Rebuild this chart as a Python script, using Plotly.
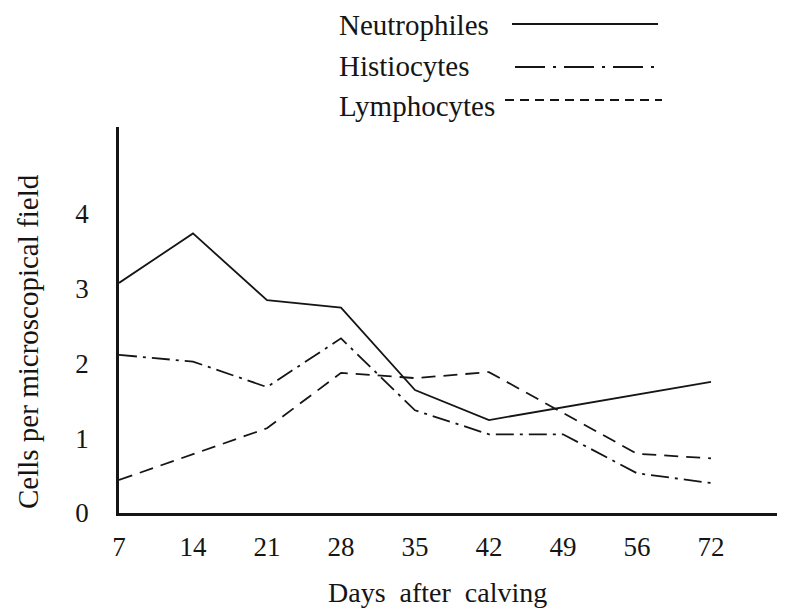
import plotly.graph_objects as go

# ─── Data ───────────────────────────────────────────────────────────────────
DAYS = ["7", "14", "21", "28", "35", "42", "49", "56", "72"]
Y_TICKS = [0, 1, 2, 3, 4]

neutro_days = ["7", "14", "21", "28", "35", "42", "72"]
neutro_vals = [3.07, 3.73, 2.84, 2.74, 1.64, 1.24, 1.75]

histio_days = ["7", "14", "21", "28", "35", "42", "49", "56", "72"]
histio_vals = [2.11, 2.02, 1.68, 2.33, 1.37, 1.05, 1.05, 0.53, 0.40]

lympho_days = ["7", "21", "28", "35", "42", "56", "72"]
lympho_vals = [0.44, 1.13, 1.87, 1.80, 1.88, 0.79, 0.73]

# ─── Page geometry (page pixels; the page body adds an 8px offset) ──────────
OFF = 8
W, H = 785 - OFF, 611 - OFF
AX_X, AX_Y, AX_TOP, AX_RIGHT = 119, 513, 127, 785  # axes in page pixels
L, T = AX_X - OFF, AX_TOP - OFF
R, B = 0, H - (AX_Y - OFF)
PW, PH = W - L - R, H - T - B
INK = "#151515"
FONT = "Liberation Serif, Times New Roman, serif"

SOLID = "solid"
DASHDOT = "18px,6px,3px,6px"
DASH = "14px,8px"


def px(x):
    return (x - AX_X) / PW


def py(y):
    return (AX_Y - y) / PH


fig = go.Figure()

for days, vals, dash, name in [
    (neutro_days, neutro_vals, SOLID, "Neutrophiles"),
    (histio_days, histio_vals, DASHDOT, "Histiocytes"),
    (lympho_days, lympho_vals, DASH, "Lymphocytes"),
]:
    fig.add_trace(go.Scatter(
        x=days, y=vals, mode="lines", name=name,
        line=dict(color=INK, width=1.8, dash=dash),
        showlegend=False,
    ))

# ─── Hand-made legend: label on the left, line sample on the right ──────────
legend_rows = [
    ("Neutrophiles", 25, 24, 512, 658, SOLID),
    ("Histiocytes", 66, 67, 515, 662, "30px,8px,3px,8px"),
    ("Lymphocytes", 106, 100, 505, 662, "9px,6px"),
]
shapes = []
annotations = []
for label, ty, ly, x0, x1, dash in legend_rows:
    annotations.append(dict(
        text=label, xref="paper", yref="paper", x=px(337), y=py(ty),
        xanchor="left", yanchor="middle", showarrow=False,
        font=dict(family=FONT, size=29, color=INK),
    ))
    shapes.append(dict(
        type="line", xref="paper", yref="paper",
        x0=px(x0), x1=px(x1), y0=py(ly), y1=py(ly),
        line=dict(color=INK, width=1.8, dash=dash),
    ))

# axis titles
annotations.append(dict(
    text="Cells per microscopical field", xref="paper", yref="paper",
    x=px(28), y=py(342), textangle=-90, showarrow=False,
    xanchor="center", yanchor="middle",
    font=dict(family=FONT, size=29, color=INK),
))
annotations.append(dict(
    text="Days\u00a0\u00a0after\u00a0\u00a0calving", xref="paper", yref="paper",
    x=px(437), y=py(592), showarrow=False,
    xanchor="center", yanchor="middle",
    font=dict(family=FONT, size=28, color=INK),
))

fig.update_layout(
    width=W, height=H,
    margin=dict(l=L, r=R, t=T, b=B, pad=0),
    paper_bgcolor="white", plot_bgcolor="white",
    font=dict(family=FONT, size=26, color=INK),
    shapes=shapes, annotations=annotations,
    xaxis=dict(
        type="category", categoryorder="array", categoryarray=DAYS,
        range=[0, 9], showgrid=False, zeroline=False,
        showline=True, linecolor=INK, linewidth=2.5,
        ticks="", ticklabelstandoff=8,
        tickfont=dict(family=FONT, size=27, color=INK),
    ),
    yaxis=dict(
        range=[0, 5.15], tickvals=Y_TICKS, showgrid=False, zeroline=False,
        showline=True, linecolor=INK, linewidth=2.5,
        ticks="", ticklabelstandoff=22,
        tickfont=dict(family=FONT, size=27, color=INK),
    ),
)

fig.write_html("out.html")
